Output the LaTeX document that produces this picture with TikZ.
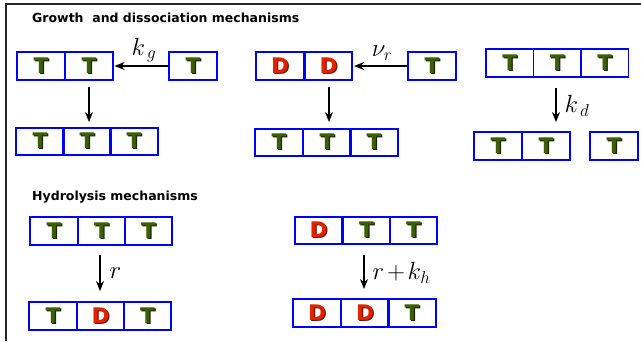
\documentclass[tikz,border=0pt]{standalone}
\usepackage{fontspec}
\setmainfont{DejaVu Sans}
\usetikzlibrary{arrows.meta}
\definecolor{tgreen}{RGB}{60,95,5}
\definecolor{tshadow}{RGB}{25,35,0}
\definecolor{dred}{RGB}{225,35,0}
\definecolor{dshadow}{RGB}{120,20,0}
\newcommand{\Tletter}{\rlap{\kern1.3pt\raisebox{-1.3pt}{\color{tshadow}T}}{\color{tgreen}T}}
\newcommand{\Dletter}{\rlap{\kern1.3pt\raisebox{-1.3pt}{\color{dshadow}D}}{\color{dred}D}}
\tikzset{
  cell/.style={draw=blue, line width=1.7pt, minimum width=47.5pt, minimum height=27.5pt, inner sep=0pt, font=\fontsize{21.5}{21.5}\selectfont\bfseries},
  tcell/.style={cell, node contents=\Tletter},
  dcell/.style={cell, node contents=\Dletter},
  arr/.style={-{Stealth[length=10pt,width=8pt]}, line width=1.3pt, shorten >=1pt},
  title/.style={font=\fontsize{12.5}{12.5}\selectfont\bfseries, anchor=west, inner sep=0pt},
  lbl/.style={font=\fontsize{26}{26}\selectfont, inner sep=0pt}
}
\begin{document}
\begin{tikzpicture}[x=1pt,y=-1pt]
\useasboundingbox (0,0) rectangle (641,341);
\draw[line width=2pt, black!85] (6,341) -- (6,4) -- (641,4);
\node[title] (t1) at (32,18) {Growth\ \ and dissociation mechanisms};
\node[title] (t2) at (32,197) {Hydrolysis mechanisms};
% growth left
\node (a1) at (41,66) [tcell];
\node (a2) at (89,66) [tcell];
\node (a3) at (193,66) [tcell];
\draw[arr] (a3.west) -- (a2.east) node[lbl, midway, above=3pt, xshift=3pt] (kg) {$k_{\mkern3mu g}$};
\node (b1) at (40,141.5) [tcell];
\node (b2) at (87,141.5) [tcell];
\node (b3) at (134,141.5) [tcell];
\draw[arr] (89,87) -- (89,123);
% growth middle
\node (c1) at (280,66) [dcell];
\node (c2) at (328.5,66) [dcell];
\node (c3) at (432,66) [tcell];
\draw[arr] (c3.west) -- (c2.east) node[lbl, midway, above=5pt, xshift=2pt] (nr) {$\nu_{r}$};
\node (d1) at (279,142.5) [tcell];
\node (d2) at (327,142.5) [tcell];
\node (d3) at (374,142.5) [tcell];
\draw[arr] (329,87) -- (329,123);
% dissociation right
\node (e1) at (509.75,63) [tcell];
\node (e2) at (557.25,63) [tcell];
\node (e3) at (604.75,63) [tcell];
\node (f1) at (498,146) [tcell];
\node (f2) at (546,146) [tcell];
\node (f3) at (614,146) [tcell];
\draw[arr] (556,88) -- (556,123) node[lbl, midway, right=8pt] (kd) {$k_{\mkern3mu d}$};
% hydrolysis left
\node (g1) at (54,231) [tcell];
\node (g2) at (101.5,231) [tcell];
\node (g3) at (148.5,231) [tcell];
\node (h1) at (53,316) [tcell];
\node (h2) at (100.5,316) [dcell];
\node (h3) at (147.5,316) [tcell];
\draw[arr] (100,255) -- (100,292) node[lbl, midway, right=9pt] (r1) {$r$};
% hydrolysis right
\node (i1) at (318.5,230.5) [dcell];
\node (i2) at (366.5,230.5) [tcell];
\node (i3) at (413.5,230.5) [tcell];
\node (j1) at (317,313) [dcell];
\node (j2) at (365,313) [dcell];
\node (j3) at (412,313) [tcell];
\draw[arr] (364,255) -- (364,290) node[lbl, midway, right=8pt] (r2) {$r\mkern-2mu+\mkern-2mu k_{h}$};
\end{tikzpicture}
\end{document}
